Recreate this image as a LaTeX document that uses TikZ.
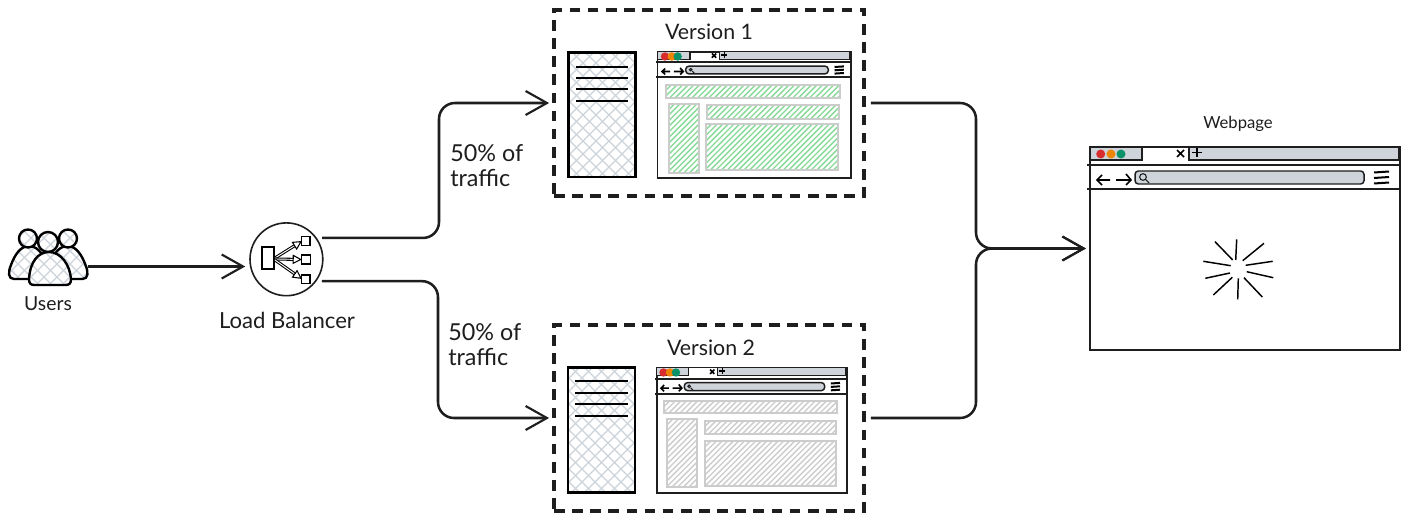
\documentclass[tikz,border=0pt]{standalone}
\usepackage{fontspec}
\setmainfont{Lato}
\usetikzlibrary{arrows.meta}
\definecolor{ink}{HTML}{1E1E1E}
\definecolor{strip}{HTML}{CED4DA}
\definecolor{xh}{HTML}{CDD3DA}
\definecolor{gh}{HTML}{86D996}
\definecolor{hh}{HTML}{CCCCCC}
\definecolor{rd}{HTML}{D92D2D}
\definecolor{og}{HTML}{EE8500}
\definecolor{gn}{HTML}{0B9268}
\tikzset{
  conn/.style={draw=ink,line width=1.9pt,rounded corners=12pt,-{Straight Barb[length=16pt,width=18pt,line width=1.6pt]},shorten <=4pt,shorten >=2.5pt},
  dashbox/.style={draw=ink,line width=2.32pt,dash pattern=on 8pt off 5.6pt,inner sep=0pt,minimum width=232.5pt,minimum height=139.5pt},
  frame/.style={draw=ink,line width=1.2pt,fill=white,inner sep=0pt},
  server/.style={draw=black,line width=1.8pt,inner sep=0pt,minimum width=50.5pt,minimum height=93.5pt},
  lbl/.style={text=ink,inner sep=0pt,font=\fontsize{16}{19}\selectfont},
  trafficlbl/.style={text=ink,inner sep=0pt,anchor=west,font=\fontsize{17.5}{21}\selectfont},
  small/.style={text=ink,inner sep=0pt,font=\fontsize{12.5}{15}\selectfont},
  thinl/.style={draw=ink,line width=1.1pt},
  medl/.style={draw=black,line width=1.2pt},
  rulel/.style={draw=ink,line width=1.5pt},
  sketch/.style={draw=black,line width=1.8pt,line join=round},
  spark/.style={draw=black,line width=1.1pt},
  panel/.style={draw=hh,line width=1.4pt}
}
% diagonal hatch over a box: x1 y1 x2 y2 spacing colour
\newcommand\hatchA[6]{%
  \pgfmathsetmacro\hstart{#1+#2}\pgfmathsetmacro\hnext{#1+#2+#5}\pgfmathsetmacro\hend{#3+#4}%
  \foreach \hk in {\hstart,\hnext,...,\hend}{\draw[#6,line width=1pt] ({\hk-#4},#4) -- ({\hk-#2},#2);}}
\newcommand\hatchB[6]{%
  \pgfmathsetmacro\hstart{#1-#4}\pgfmathsetmacro\hnext{#1-#4+#5}\pgfmathsetmacro\hend{#3-#2}%
  \foreach \hk in {\hstart,\hnext,...,\hend}{\draw[#6,line width=1pt] ({\hk+#2},#2) -- ({\hk+#4},#4);}}
\newcommand\crossfill[4]{\hatchA{#1}{#2}{#3}{#4}{13}{xh}\hatchB{#1}{#2}{#3}{#4}{13}{xh}}
\newcommand\panelbox[5]{%
  \begin{scope}\clip (#1,#2) rectangle (#3,#4);\hatchA{#1}{#2}{#3}{#4}{5.6}{#5}\end{scope}
  \draw[panel] (#1,#2) rectangle (#3,#4);}
\newcommand\person[2]{%
  \path[fill=white] #1;
  \begin{scope}\clip #1;\crossfill{#2}{225}{100}{290}\end{scope}
  \draw[sketch] #1;}
% browser chrome, in the 310 x 203 units of the large one
\newcommand\chrome[6]{%
  \begin{scope}[shift={(#1,#2)},xscale=#3,yscale=#4]
    \draw[thinl,fill=strip] (0,0) rectangle (52,13);
    \draw[thinl,fill=strip] (99,0) rectangle (#5,13);
    \draw[medl] (87,3) -- (94,10) (94,3) -- (87,10);
    \draw[medl] (102,5.5) -- (112,5.5) (107,1) -- (107,10);
    \draw[rulel] (-3,18) -- (#5,18) (-3,42) -- (#5,42);
    \draw[thinl,rounded corners=2.5pt,fill=strip] (45,24) rectangle (274,37);
    \draw[draw=ink,line width=.8pt] (53,30) circle[radius=2.5pt*#6];
    \draw[draw=ink,line width=.8pt] (55.5,32.5) -- (59,36);
    \draw[medl] (20,33) -- (7,33) (12,28) -- (7,33) -- (12,38);
    \draw[medl] (26,33) -- (41,33) (36,27) -- (41,33) -- (36,38);
    \draw[medl,line width=1.5pt] (284,25.5) -- (299,24.5) (284,31) -- (299,30) (284,36.5) -- (299,35.5);
  \end{scope}}
\newcommand\lights[5]{%
  \fill[rd] (#1,#4) circle[radius=#5];
  \fill[og] (#2,#4) circle[radius=#5];
  \fill[gn] (#3,#4) circle[radius=#5];}
\begin{document}
\begin{tikzpicture}[x=.75pt,y=-.75pt]
\useasboundingbox[fill=white] (0,0) rectangle (1409,520);
\coordinate (busa) at (439,0);
\coordinate (busb) at (438,0);
\coordinate (busc) at (976,0);

% Users
\person{(30,279) -- (14,279) .. controls (8,279) and (8,272) .. (11,265) .. controls (15,254) and (21,246) .. (29,246) .. controls (36,246) and (42,252) .. (46,262) -- cycle}{5}
\person{(66.5,279) -- (82.5,279) .. controls (88.5,279) and (88.5,272) .. (85.5,265) .. controls (81.5,254) and (75.5,246) .. (67.5,246) .. controls (60.5,246) and (54.5,252) .. (50.5,262) -- cycle}{5}
\person{(28,238.5) circle[radius=9]}{5}
\person{(68,238.5) circle[radius=9]}{5}
\person{(48,242) circle[radius=10]}{5}
\person{(29,279) .. controls (30,262) and (38,252) .. (49,252) .. controls (61,252) and (70,265) .. (71,279) .. controls (71,284) and (69,285) .. (65,285) -- (35,285) .. controls (31,285) and (29,284) .. (29,279) -- cycle}{5}
\node[inner sep=0pt,minimum width=58.5pt,minimum height=28.5pt] (users) at (49,266.5) {};
\node[lbl,font=\fontsize{14.5}{17}\selectfont] (userslabel) at (48,304) {Users};

% Load balancer
\node[circle,draw=ink,line width=1.2pt,inner sep=0pt,minimum size=54.6pt] (lb) at (286.4,259.3) {};
\node[lbl,font=\fontsize{16.6}{20}\selectfont] (lblabel) at (287,320) {Load Balancer};
\draw[draw=black,line width=1.2pt,fill=white] (261.7,247.3) rectangle (274,269);
\draw[draw=black,line width=1pt,fill=white] (301.7,236.7) rectangle (310,245.7);
\draw[draw=black,line width=1pt,fill=white] (301.7,255) rectangle (310.7,264);
\draw[draw=black,line width=1pt,fill=white] (301.7,275) rectangle (310,283.3);
\draw[draw=black,line width=.8pt,double=white,double distance=.7pt,-{Triangle[open,length=7pt,width=7pt,fill=white]}] (275,258) -- (302,241);
\draw[draw=black,line width=.8pt,double=white,double distance=.7pt,-{Triangle[open,length=7pt,width=7pt,fill=white]}] (275,259) -- (302,259.5);
\draw[draw=black,line width=.8pt,double=white,double distance=.7pt,-{Triangle[open,length=7pt,width=7pt,fill=white]}] (275,260) -- (302,279);

% Version boxes
\node[dashbox] (v1) at (709,103) {};
\node[dashbox] (v2) at (709,418) {};
\node[lbl] (v1label) at (709,32) {Version 1};
\node[lbl] (v2label) at (711,348) {Version 2};

% servers
\begin{scope}\clip (568.3,52.3) rectangle (635.7,177);\crossfill{568}{52}{636}{178}\end{scope}
\begin{scope}\clip (567.7,367.7) rectangle (635,492.3);\crossfill{567}{367}{636}{493}\end{scope}
\node[server] (s1) at (602,114.7) {};
\node[server] (s2) at (601.4,430) {};
\foreach \ly in {66.7,78,89.3,100.7}{\draw[draw=black,line width=1.7pt] (576,\ly) -- (628.3,\ly);}
\foreach \ly in {381,392.7,404.3,415.7}{\draw[draw=black,line width=1.7pt] (575,\ly) -- (627.7,\ly);}

% browser of version 1
\node[frame,minimum width=144.8pt,minimum height=94.9pt] (b1) at (754.2,115) {};
\chrome{657.7}{51.7}{.6226}{.6}{309}{.62}
\lights{665}{671.7}{677.7}{56.5}{4.2}
\panelbox{665.7}{85}{840}{97.7}{gh}
\panelbox{668.7}{104}{699}{172.7}{gh}
\panelbox{706.7}{105.3}{839.3}{118.7}{gh}
\panelbox{705.7}{124.3}{838.3}{170}{gh}

% browser of version 2
\node[frame,minimum width=142.5pt,minimum height=93.8pt] (b2) at (751.7,430.2) {};
\chrome{656.7}{367.7}{.613}{.62}{309}{.62}
\lights{663.5}{670}{676}{372.5}{4.2}
\panelbox{664.3}{400.7}{836.7}{413.3}{hh}
\panelbox{667.3}{419}{697.3}{486.7}{hh}
\panelbox{705}{420.7}{835.7}{434.3}{hh}
\panelbox{705.3}{441}{836}{486}{hh}

% Webpage
\node[frame,minimum width=232.5pt,minimum height=152.3pt] (web) at (1245,248.5) {};
\chrome{1090}{147}{1}{1}{309}{1}
\lights{1100.7}{1111}{1121}{154}{4.5}
\node[small] (weblabel) at (1238,124) {Webpage};
\foreach \xa/\ya/\xb/\yb in {1215/241.7/1232.7/260,1236.7/239.3/1235.7/260,1264/243.3/1242.7/260.7,1272.7/261.3/1245.7/265.3,1273.3/277.7/1246.7/271.7,1262.3/297/1244/277.7,1237.7/299.3/1238.3/278.3,1213.3/295/1232.3/277.3,1205.3/278.3/1230/273,1203.3/261.3/1230.7/265.7}
  {\draw[spark] (\xa,\ya) -- (\xb,\yb);}

% connectors
\draw[conn,line width=2.2pt,shorten <=0pt,shorten >=3pt] (users.east) -- (users.east -| lb.west);
\draw[conn] (lb.35) -- (busa |- lb.35) -- (busa |- v1.west) -- (v1.west);
\draw[conn] (lb.-36.5) -- (busb |- lb.-36.5) -- (busb |- v2.west) -- (v2.west);
\draw[conn] (v1.east) -- (busc |- v1.east) -- (busc |- web.west) -- (web.west);
\draw[conn] (v2.east) -- (busc |- v2.east) -- (busc |- web.west) -- (web.west);

% traffic labels
\node[trafficlbl] (t1a) at (450,153) {50\% of};
\node[trafficlbl] (t1b) at (450,178) {traffic};
\node[trafficlbl] (t2a) at (448,332) {50\% of};
\node[trafficlbl] (t2b) at (448,357) {traffic};
\end{tikzpicture}
\end{document}
